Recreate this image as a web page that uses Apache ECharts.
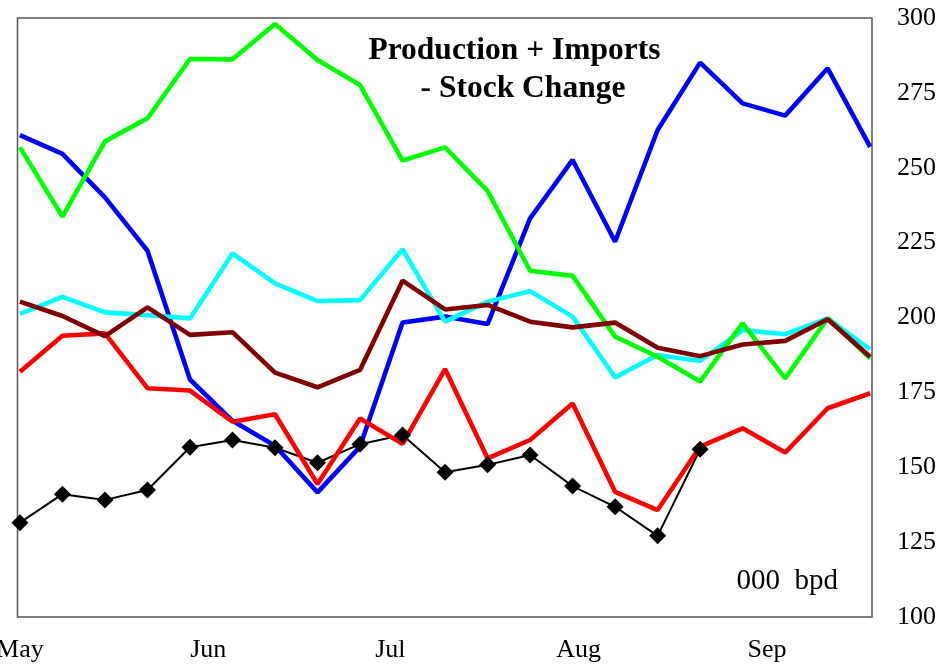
<!DOCTYPE html>
<html><head><meta charset="utf-8">
<script src="https://cdn.jsdelivr.net/npm/echarts@6/dist/echarts.min.js"></script>
<style>html,body{margin:0;padding:0;background:#fff}#c{width:946px;height:666px}</style>
</head><body><div id="c"></div>
<script>
// days since May 1 for each weekly observation
const weekDays = [0,7,14,21,28,35,42,49,56,63,70,77,84,91,98,105,112,119,126,133,140];
const monthDays = [0,31,61,92,123];
const monthLabels = ['May','Jun','Jul','Aug','Sep'];

const blueVals   = [260.9,254.6,240.1,222.3,179.3,165.5,157.2,141.6,156.9,198.3,200.3,197.8,233.1,252.6,225.3,262.6,285.1,271.5,267.4,283.2,257.0];
const greenVals  = [256.8,233.7,258.8,266.5,286.3,286.2,298.0,286.0,277.6,252.4,256.8,242.3,215.6,213.9,193.6,186.9,178.6,198.1,179.7,199.7,186.4];
const cyanVals   = [201.2,206.9,201.7,200.8,199.7,221.4,211.4,205.5,205.8,222.8,198.6,205.3,208.8,200.3,180.0,187.5,185.5,195.8,194.4,199.7,189.4];
const maroonVals = [205.3,200.5,193.8,203.4,194.2,195.1,181.6,176.7,182.5,212.3,202.7,204.2,198.6,196.7,198.3,189.9,187.1,191.0,192.2,199.4,186.9];
const redVals    = [181.9,193.9,194.7,176.4,175.6,165.2,167.7,144.4,166.3,157.8,182.8,153.0,159.1,171.3,141.8,135.7,156.9,163.0,154.9,169.7,174.7];
const blackVals  = [131.5,141.0,139.1,142.4,156.7,159.1,156.5,151.5,157.7,160.8,148.3,150.8,154.1,143.7,136.8,127.1,156.0];

const titleLine1 = 'Production + Imports';
const titleLine2 = '- Stock Change';
const unitText = '000  bpd';

function pairs(vals){ return vals.map((v,i)=>[weekDays[i], v]); }
function lineSeries(name, vals, color){
  return {name, type:'line', data:pairs(vals), showSymbol:false, symbol:'none',
    lineStyle:{color, width:4.6}, itemStyle:{color}, animation:false};
}

const chart = echarts.init(document.getElementById('c'), null, {renderer:'canvas'});
const serif = '"Liberation Serif","Times New Roman",serif';
chart.setOption({
  backgroundColor:'#fff',
  animation:false,
  grid:{left:17.5, right:74, top:18, bottom:49, show:true, borderColor:'#555', borderWidth:1.5,
    backgroundColor:'transparent', containLabel:false, outerBoundsMode:'none'},
  xAxis:{type:'value', min:-0.4, max:140.3,
    axisLine:{show:false}, axisTick:{show:false}, splitLine:{show:false},
    axisLabel:{customValues:monthDays, formatter:(v)=>monthLabels[monthDays.indexOf(v)] || '',
      fontFamily:serif, fontSize:26, color:'#000', margin:20, showMinLabel:true, hideOverlap:false}
  },
  yAxis:{type:'value', position:'right', min:100, max:300, interval:25,
    axisLine:{show:false}, axisTick:{show:false}, splitLine:{show:false},
    axisLabel:{fontFamily:serif, fontSize:26, color:'#000', margin:25, align:'left'}
  },
  graphic:[
    {type:'text', x:514.5, y:50.5, style:{text:titleLine1, font:'bold 31.5px '+serif, fill:'#000', align:'center', verticalAlign:'middle'}},
    {type:'text', x:523, y:88.5, style:{text:titleLine2, font:'bold 31.5px '+serif, fill:'#000', align:'center', verticalAlign:'middle'}},
    {type:'text', x:838, y:581, style:{text:unitText, font:'29px '+serif, fill:'#000', align:'right', verticalAlign:'middle'}}
  ],
  series:[
    {name:'black', type:'line', data:pairs(blackVals), symbol:'diamond', symbolSize:17, showSymbol:true,
      lineStyle:{color:'#000', width:2}, itemStyle:{color:'#000'}, animation:false},
    lineSeries('blue', blueVals, '#0000ff'),
    lineSeries('red', redVals, '#ff0000'),
    lineSeries('cyan', cyanVals, '#00ffff'),
    lineSeries('green', greenVals, '#00ff00'),
    lineSeries('maroon', maroonVals, '#800000')
  ]
});
</script></body></html>
